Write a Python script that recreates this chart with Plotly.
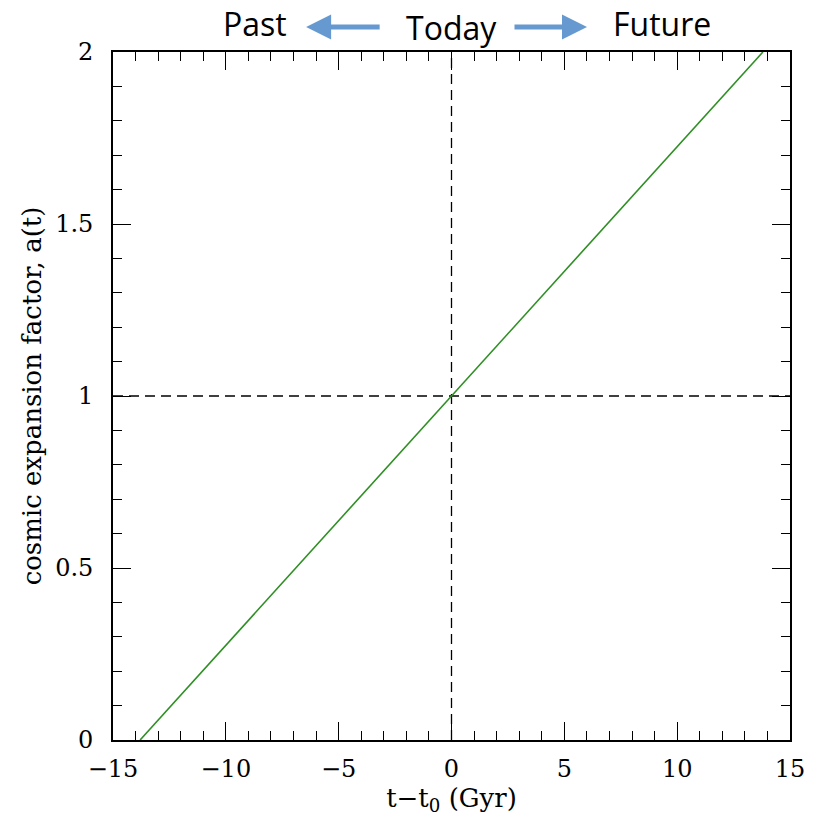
import plotly.graph_objects as go

# Linear expansion history: a(t) rises from 0 to 2 across the age window
time_gyr = [-13.8, 0.0, 13.8]
scale_factor = [0.0, 1.0, 2.0]

x_range = [-15, 15]
y_range = [0, 2]
x_ticks = [-15, -10, -5, 0, 5, 10, 15]
y_ticks = [0, 0.5, 1, 1.5, 2]
y_tick_text = ["0", "0.5", "1", "1.5", "2"]

W, H = 817, 819
ML, MR, MT, MB = 113, 17, 52, 79
PW, PH = W - ML - MR, H - MT - MB


def px(x):
    return (x - ML) / PW


def py(y):
    return (H - MB - y) / PH


fig = go.Figure()

# reference lines through "today"
fig.add_trace(go.Scatter(x=[0, 0], y=y_range, mode="lines",
                         line=dict(color="black", width=1.3, dash="10px,6px"),
                         hoverinfo="skip", showlegend=False))
fig.add_trace(go.Scatter(x=x_range, y=[1, 1], mode="lines",
                         line=dict(color="black", width=1.3, dash="10px,6px"),
                         hoverinfo="skip", showlegend=False))

fig.add_trace(go.Scatter(x=time_gyr, y=scale_factor, mode="lines",
                         line=dict(color="#2f8f25", width=1.6),
                         showlegend=False))

tick_font = dict(family="DejaVu Serif", size=24, color="black")
title_font = dict(family="DejaVu Serif", size=26, color="black")

fig.update_xaxes(range=x_range, tickvals=x_ticks, ticks="inside", ticklen=18,
                 tickwidth=1.3, tickcolor="black",
                 minor=dict(dtick=1, ticks="inside", ticklen=9, tickwidth=1.3, tickcolor="black"),
                 showline=True, linecolor="black", linewidth=1.8, mirror="ticks",
                 showgrid=False, zeroline=False, tickfont=tick_font, ticklabelstandoff=6,
                 title=dict(text="t−t<sub>0</sub> (Gyr)", font=title_font, standoff=6))
fig.update_yaxes(range=y_range, tickvals=y_ticks, ticktext=y_tick_text, ticks="inside", ticklen=18,
                 tickwidth=1.3, tickcolor="black",
                 minor=dict(dtick=0.1, ticks="inside", ticklen=9, tickwidth=1.3, tickcolor="black"),
                 showline=True, linecolor="black", linewidth=1.8, mirror="ticks",
                 showgrid=False, zeroline=False, tickfont=tick_font, ticklabelstandoff=13,
                 title=dict(text="cosmic expansion factor, a(t)", font=title_font, standoff=6))

head_font = dict(family="Open Sans", size=32, color="black")
arrow_color = "#6699cf"
for label, cx, cy in [("Past", 257, 24), ("Today", 456, 28), ("Future", 670, 24)]:
    fig.add_annotation(x=px(cx), y=py(cy), xref="paper", yref="paper", text=label,
                       xanchor="center", yanchor="middle", showarrow=False, font=head_font)
fig.add_annotation(x=px(309), y=py(27), ax=75, ay=0, xref="paper", yref="paper",
                   axref="pixel", ayref="pixel", text="", showarrow=True,
                   arrowhead=2, arrowsize=1, arrowwidth=5, arrowcolor=arrow_color)
fig.add_annotation(x=px(594), y=py(27), ax=-74, ay=0, xref="paper", yref="paper",
                   axref="pixel", ayref="pixel", text="", showarrow=True,
                   arrowhead=2, arrowsize=1, arrowwidth=5, arrowcolor=arrow_color)

fig.update_layout(width=W, height=H, margin=dict(l=ML, r=MR, t=MT, b=MB),
                  plot_bgcolor="white", paper_bgcolor="white")

fig.write_html("out.html")
